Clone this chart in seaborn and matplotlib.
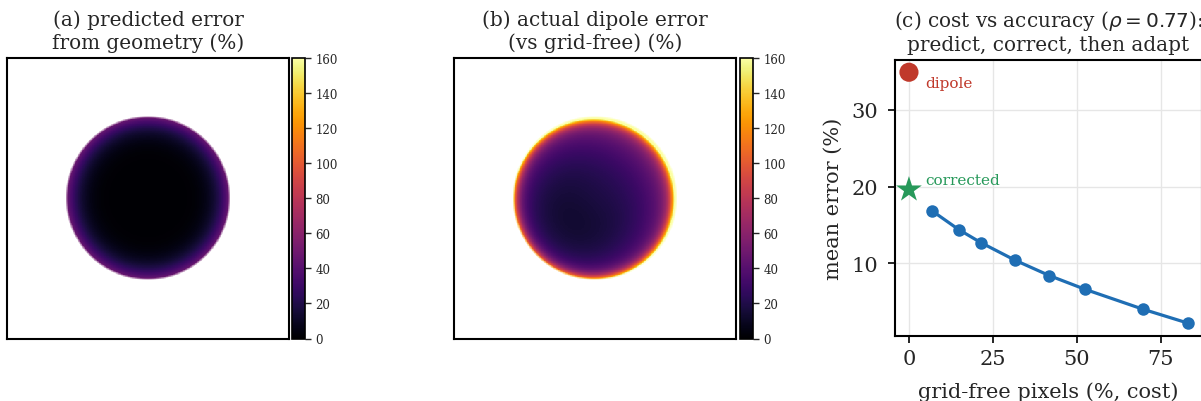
import numpy as np
import pandas as pd
import matplotlib
matplotlib.use("Agg")
import matplotlib.pyplot as plt
import seaborn as sns

# ---------------- data ----------------
# panel (c): cost vs accuracy
adapt_cost = [7.0, 14.8, 21.4, 31.6, 41.8, 52.5, 69.8, 83.1]
adapt_err = [16.8, 14.4, 12.7, 10.4, 8.4, 6.6, 4.0, 2.2]
dipole_pt = [0.0, 34.9]
corrected_pt = [0.0, 19.6]
rho_value = 0.77

# error-map levels (%)
pred_edge_level = [50.0]            # predicted error at disk rim
pred_edge_power = [6.0]
act_base_level = [14.0, 11.0, 36.0]  # centre, tilt, radial rise
act_ring_level = [125.0, 40.0]       # rim error mean, directional swing
cbar_ticks = [0, 20, 40, 60, 80, 100, 120, 140, 160]

# ---------------- maps (model on a grid) ----------------
N = 400
R = 0.58
xs = np.linspace(-1, 1, N)
ys = np.linspace(1, -1, N)
X, Y = np.meshgrid(xs, ys)
r = np.hypot(X, Y)
th = np.arctan2(Y, X)
re = np.minimum(r, R)
dx = 2.0 / N
coverage = np.clip((R - r) / (3.5 * dx) + 0.5, 0, 1)

pred = pred_edge_level[0] * (re / R) ** pred_edge_power[0]

base = act_base_level[0] + act_base_level[1] * (X + Y + 0.2) / R + act_base_level[2] * (re / R) ** 3
ring_amp = act_ring_level[0] + act_ring_level[1] * np.cos(th - np.pi / 4)
act = base + ring_amp * np.exp(-(R - re) / 0.034)
act = np.clip(act, 0, 175)

# ---------------- figure ----------------
sns.set_theme(style="ticks")
plt.rcParams["font.family"] = ["DejaVu Serif"]
plt.rcParams["mathtext.fontset"] = "dejavusans"

W, H = 1201, 402
fig = plt.figure(figsize=(W / 100, H / 100), dpi=100)

def frac(l, t, w, h):
    return [l / W, 1 - (t + h) / H, w / W, h / H]

ax_a = fig.add_axes(frac(7, 58.5, 282, 281))
cax_a = fig.add_axes(frac(292, 58.5, 13, 281))
ax_b = fig.add_axes(frac(454, 58.5, 282, 281))
cax_b = fig.add_axes(frac(740, 58.5, 13, 281))
ax_c = fig.add_axes(frac(895, 60.7, 307, 276))

for ax, cax, field, title in [
    (ax_a, cax_a, pred, "(a) predicted error\nfrom geometry (%)"),
    (ax_b, cax_b, act, "(b) actual dipole error\n(vs grid-free) (%)"),
]:
    sns.heatmap(pd.DataFrame(field), ax=ax, cmap="inferno", vmin=0, vmax=160,
                cbar_ax=cax, xticklabels=False, yticklabels=False,
                rasterized=True)
    mesh = ax.collections[0]
    mesh.set_alpha(coverage)
    ax.set_xticks([])
    ax.set_yticks([])
    ax.set_xlabel("")
    ax.set_ylabel("")
    for sp in ax.spines.values():
        sp.set_visible(True)
        sp.set_color("black")
        sp.set_linewidth(1.5)
    ax.set_title(title, fontsize=14.4, pad=7)
    cb = mesh.colorbar
    cb.solids.set_alpha(1)
    cb.outline.set_visible(True)
    cb.outline.set_linewidth(1.2)
    cb.outline.set_edgecolor("black")
    cb.set_ticks(cbar_ticks)
    cb.ax.tick_params(labelsize=8.5, length=4, width=1)

# panel (c)
blue = "#1f6eb4"
sns.lineplot(x=adapt_cost, y=adapt_err, ax=ax_c, color=blue, linewidth=2.3,
             marker="o", markersize=9, markeredgewidth=0)
sns.scatterplot(x=[dipole_pt[0]], y=[dipole_pt[1]], ax=ax_c, color="#c0392b",
                s=190, edgecolor="none", zorder=5)
sns.scatterplot(x=[corrected_pt[0]], y=[corrected_pt[1]], ax=ax_c, color="#27995a",
                marker="*", s=380, edgecolor="none", zorder=5)
ax_c.annotate("dipole", (dipole_pt[0], dipole_pt[1]), xytext=(12, -8),
              textcoords="offset points", color="#c0392b", fontsize=11, va="center")
ax_c.annotate("corrected", (corrected_pt[0], corrected_pt[1]), xytext=(12, 7),
              textcoords="offset points", color="#27995a", fontsize=11, va="center")
ax_c.set_xticks([0, 25, 50, 75])
ax_c.set_yticks([10, 20, 30])
ax_c.grid(True, color="0.9", linewidth=1)
ax_c.set_axisbelow(True)
ax_c.tick_params(labelsize=15, length=5, width=1.2, color="black", pad=7)
ax_c.tick_params(axis="x", pad=4.5)
for sp in ax_c.spines.values():
    sp.set_color("black")
    sp.set_linewidth(1.5)
ax_c.set_xlabel("grid-free pixels (%, cost)", fontsize=15, labelpad=9.5)
ax_c.set_ylabel("mean error (%)", fontsize=15, labelpad=6)
ax_c.set_title("(c) cost vs accuracy ($\\rho = %.2f$):\npredict, correct, then adapt" % rho_value,
               fontsize=14.4, pad=7)

fig.savefig("out.png", dpi=100)
